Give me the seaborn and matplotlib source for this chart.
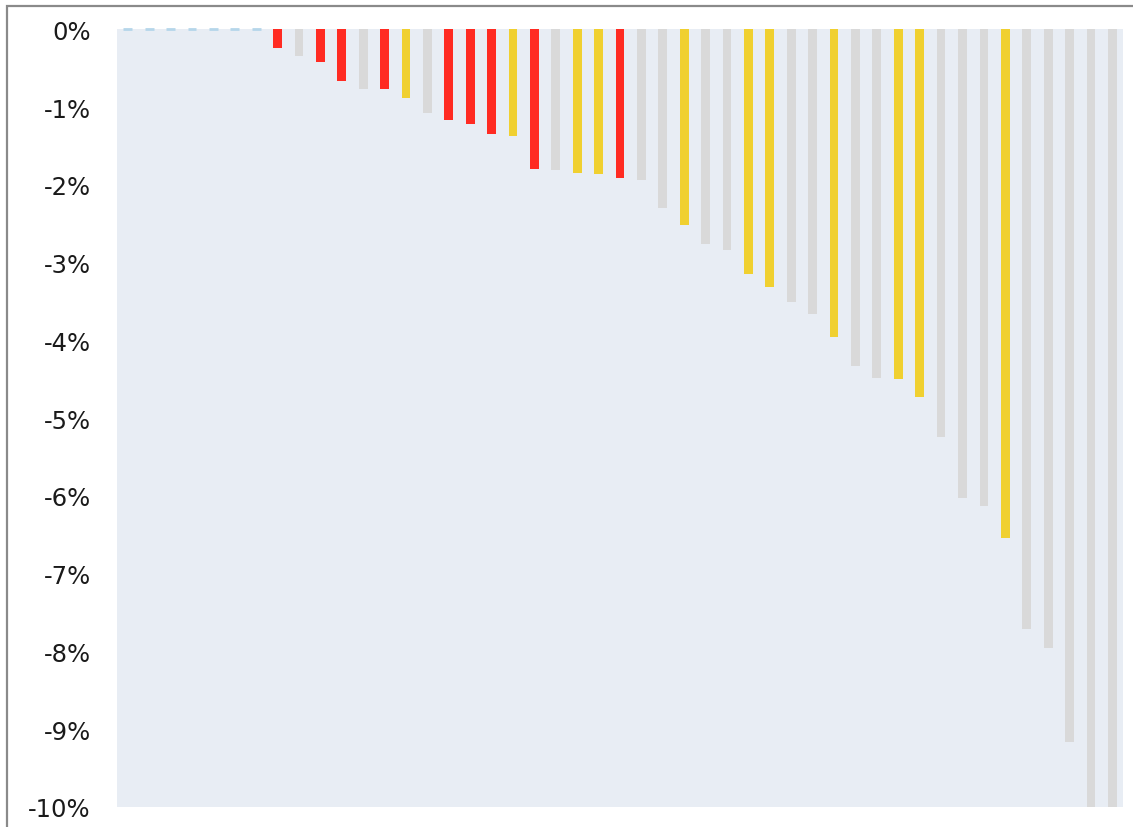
import matplotlib
matplotlib.use("Agg")
import matplotlib.pyplot as plt
import seaborn as sns
import pandas as pd
from matplotlib.patches import Rectangle

# values in percent, left to right
values = [0, 0, 0, 0, 0, 0, 0,
          -0.24, -0.34, -0.42, -0.66, -0.77, -0.77, -0.88, -1.07, -1.17, -1.21,
          -1.34, -1.37, -1.79, -1.81, -1.84, -1.86, -1.91, -1.94, -2.30, -2.51,
          -2.76, -2.83, -3.15, -3.31, -3.50, -3.66, -3.95, -4.33, -4.48, -4.50,
          -4.73, -5.24, -6.02, -6.13, -6.54, -7.71, -7.96, -9.16, -10.0, -10.0]
groups = ["flat"] * 7 + [
    "red", "gray", "red", "red", "gray", "red", "yellow", "gray", "red", "red",
    "red", "yellow", "red", "gray", "yellow", "yellow", "red", "gray", "gray", "yellow",
    "gray", "gray", "yellow", "yellow", "gray", "gray", "yellow", "gray", "gray", "yellow",
    "yellow", "gray", "gray", "gray", "yellow", "gray", "gray", "gray", "gray", "gray"]
yticks = list(range(0, -11, -1))
ytick_labels = [f"{t}%" for t in yticks]

palette = {"flat": "#E8EDF4", "red": "#FF2B22", "yellow": "#F0D030", "gray": "#D9D9D9"}

df = pd.DataFrame({"idx": range(len(values)), "value": values, "group": groups})

sns.set_style("white")
plt.rcParams["font.family"] = ["DejaVu Sans"]

fig = plt.figure(figsize=(11.33, 8.28), dpi=100)
ax = fig.add_axes([0.1033, 0.0242, 0.8879, 0.9390])
ax.set_facecolor("#E8EDF4")

sns.barplot(data=df, x="idx", y="value", hue="group", palette=palette,
            width=0.41, dodge=False, legend=False, saturation=1, ax=ax)

# zero-valued bars shown as light blue dashes
for p in ax.patches:
    if p.get_height() == 0:
        p.set_edgecolor("#B5D6EA")
        p.set_linewidth(2)
        p.set_clip_on(False)
    else:
        p.set_linewidth(0)

ax.set_ylim(-10, 0)
ax.set_xlim(-0.5, len(values) - 0.5)
ax.set_yticks(yticks)
ax.set_yticklabels(ytick_labels, fontsize=17.5, color="#1a1a1a")
ax.tick_params(axis="y", length=0, pad=19)
ax.set_xticks([])
ax.set_xlabel("")
ax.set_ylabel("")
for s in ax.spines.values():
    s.set_visible(False)

# outer frame (top and left edges visible)
fig.add_artist(Rectangle((0.0062, -0.05), 1.1, 0.992 + 0.05, transform=fig.transFigure,
                         fill=False, edgecolor="#8a8a8a", linewidth=1.6))

fig.savefig("out.png", dpi=100)
